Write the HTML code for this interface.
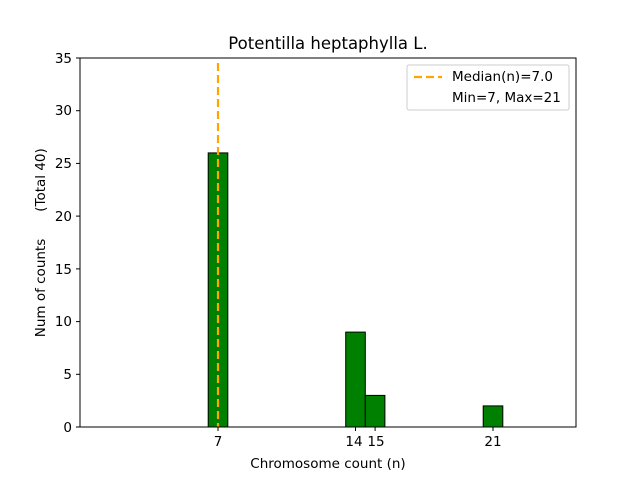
<!DOCTYPE html>
<html><head><meta charset="utf-8"><style>body{margin:0;background:#fff}</style></head><body>
<svg width="640" height="480" xmlns="http://www.w3.org/2000/svg" font-family="DejaVu Sans, Liberation Sans, sans-serif">
<rect width="640" height="480" fill="#fff"/>
<text x="328" y="49" font-size="16.5" text-anchor="middle">Potentilla heptaphylla L.</text>
<g fill="#008000" stroke="#000" stroke-width="1">
<rect x="208.2" y="152.9" width="19.6" height="274.1"/>
<rect x="345.7" y="332.1" width="19.6" height="94.9"/>
<rect x="365.3" y="395.4" width="19.6" height="31.6"/>
<rect x="483.2" y="405.9" width="19.6" height="21.1"/>
</g>
<line x1="218" y1="63" x2="218" y2="427" stroke="#FFA500" stroke-width="2.2" stroke-dasharray="8,4"/>
<rect x="80" y="58" width="496" height="369" fill="none" stroke="#000" stroke-width="1"/>
<g font-size="13.5" text-anchor="end">
<g stroke="#000"><line x1="76" y1="427" x2="80" y2="427"/><line x1="76" y1="374.3" x2="80" y2="374.3"/><line x1="76" y1="321.6" x2="80" y2="321.6"/><line x1="76" y1="268.9" x2="80" y2="268.9"/><line x1="76" y1="216.1" x2="80" y2="216.1"/><line x1="76" y1="163.4" x2="80" y2="163.4"/><line x1="76" y1="110.7" x2="80" y2="110.7"/><line x1="76" y1="58" x2="80" y2="58"/></g>
<text x="72" y="432">0</text><text x="72" y="379">5</text><text x="72" y="326">10</text><text x="72" y="274">15</text><text x="72" y="221">20</text><text x="72" y="168">25</text><text x="72" y="115">30</text><text x="72" y="63">35</text>
</g>
<g font-size="13.5" text-anchor="middle">
<g stroke="#000"><line x1="218" y1="427" x2="218" y2="431"/><line x1="355.5" y1="427" x2="355.5" y2="431"/><line x1="375.1" y1="427" x2="375.1" y2="431"/><line x1="493" y1="427" x2="493" y2="431"/></g>
<text x="218" y="446">7</text><text x="354" y="446">14</text><text x="376" y="446">15</text><text x="493" y="446">21</text>
<text x="328" y="468">Chromosome count (n)</text>
</g>
<text transform="translate(45,288) rotate(-90)" font-size="13.5" text-anchor="middle">Num of counts</text>
<text transform="translate(45,180) rotate(-90)" font-size="13.5" text-anchor="middle">(Total 40)</text>
<rect x="407" y="65" width="162" height="45" rx="2" fill="#fff" stroke="#ccc"/>
<line x1="414" y1="77" x2="442" y2="77" stroke="#FFA500" stroke-width="2.2" stroke-dasharray="8,4"/>
<text x="452" y="81" font-size="13.5">Median(n)=7.0</text>
<text x="452" y="102" font-size="13.5">Min=7, Max=21</text>
</svg>
</body></html>
